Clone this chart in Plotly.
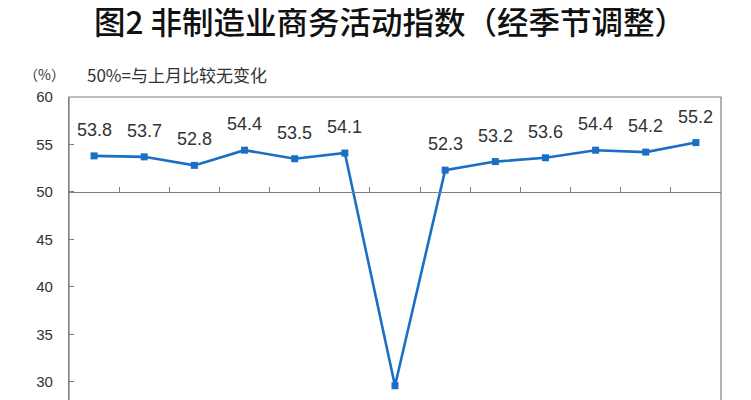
import plotly.graph_objects as go

# Non-manufacturing business activity index, seasonally adjusted
months = ["2019-08", "2019-09", "2019-10", "2019-11", "2019-12", "2020-01", "2020-02",
          "2020-03", "2020-04", "2020-05", "2020-06", "2020-07", "2020-08"]
index_values = [53.8, 53.7, 52.8, 54.4, 53.5, 54.1, 29.6, 52.3, 53.2, 53.6, 54.4, 54.2, 55.2]
y_ticks = [30, 35, 40, 45, 50, 55, 60]

y_min, y_max = 28.1, 60
baseline = 50

fig = go.Figure()

fig.add_trace(go.Scatter(
    x=months, y=index_values,
    mode="lines+markers",
    line=dict(color="#1a6fc4", width=2.6),
    marker=dict(symbol="square", size=7, color="#1a6fc4"),
    cliponaxis=False,
    hoverinfo="x+y",
))

# data labels above points, the dip labelled below
for m, v in zip(months, index_values):
    fig.add_annotation(x=m, y=v, text=f"{v:.1f}", showarrow=False,
                       yshift=26 if v >= baseline else -21,
                       font=dict(family="Liberation Sans, Arial", size=18, color="#333333"))

# plot area border
fig.add_shape(type="rect", xref="paper", yref="paper", x0=0, x1=1, y0=-0.1, y1=1,
              line=dict(color="#7f7f7f", width=1.2), layer="below")

fig.add_annotation(xref="paper", yref="paper", x=0, y=1, xshift=-25, yshift=23,
                   text="（%）", showarrow=False, xanchor="center", yanchor="middle",
                   font=dict(family="Noto Sans CJK SC", size=14, color="#333333"))
fig.add_annotation(xref="paper", yref="paper", x=0, y=1, xshift=16, yshift=23,
                   text="50%=与上月比较无变化", showarrow=False, xanchor="left", yanchor="middle",
                   font=dict(family="Noto Sans CJK SC", size=17, color="#333333"))

# the page body adds 8px, so the figure is 8px smaller
fig.update_layout(
    width=743, height=392,
    margin=dict(l=61, r=30, t=89, b=0),
    paper_bgcolor="white", plot_bgcolor="white",
    showlegend=False,
    title=dict(text="图2 非制造业商务活动指数（经季节调整）",
               x=382 / 743, xanchor="center", y=1 - 15 / 392, yanchor="middle",
               font=dict(family="Noto Sans CJK SC", size=31.5, color="#111111", weight=500)),
    xaxis=dict(type="category", categoryorder="array", categoryarray=months,
               range=[-0.5, len(months) - 0.5],
               anchor="free", position=(baseline - y_min) / (y_max - y_min),
               showline=True, linecolor="#7f7f7f", linewidth=1.2,
               ticks="inside", tickson="boundaries", ticklen=5, tickcolor="#7f7f7f",
               showticklabels=False, showgrid=False, zeroline=False),
    yaxis=dict(range=[y_min, y_max], tickvals=y_ticks,
               showline=True, linecolor="#7f7f7f", linewidth=1.2,
               ticks="inside", ticklen=5, tickcolor="#7f7f7f", ticklabelstandoff=12,
               tickfont=dict(family="Liberation Sans Narrow, Liberation Sans", size=15, color="#333333"),
               showgrid=False, zeroline=False),
)

fig.write_html("out.html")
